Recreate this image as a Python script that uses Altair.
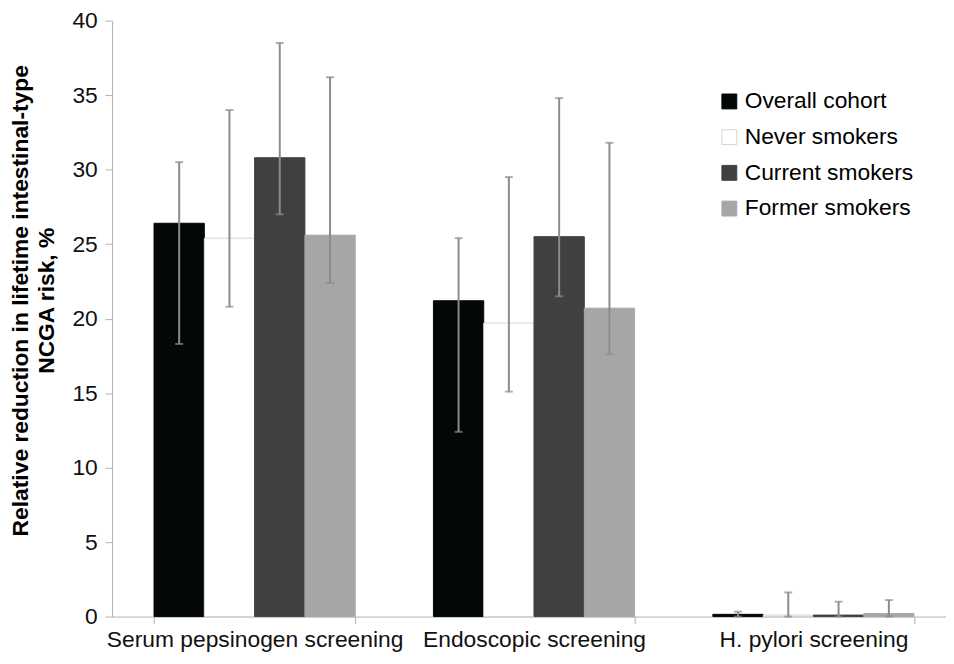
import altair as alt
import pandas as pd

categories = ["Serum pepsinogen screening", "Endoscopic screening", "H. pylori screening"]
groups = ["Overall cohort", "Never smokers", "Current smokers", "Former smokers"]

overall = [26.4, 21.2, 0.15]
never = [25.4, 19.7, 0.1]
current = [30.8, 25.5, 0.1]
former = [25.6, 20.7, 0.2]

overall_lo = [18.3, 12.4, 0.0]
never_lo = [20.8, 15.1, 0.0]
current_lo = [27.0, 21.5, 0.0]
former_lo = [22.4, 17.6, 0.0]

overall_hi = [30.5, 25.4, 0.33]
never_hi = [34.0, 29.5, 1.62]
current_hi = [38.5, 34.8, 1.0]
former_hi = [36.2, 31.8, 1.11]

fills = ["#030708", "#ffffff", "#404040", "#a6a6a6"]
strokes = ["#030708", "#d4d4d4", "#404040", "#a6a6a6"]

series = {
    "Overall cohort": (overall, overall_lo, overall_hi),
    "Never smokers": (never, never_lo, never_hi),
    "Current smokers": (current, current_lo, current_hi),
    "Former smokers": (former, former_lo, former_hi),
}

rows = []
for g in groups:
    v, lo, hi = series[g]
    for i, c in enumerate(categories):
        rows.append({"cat": c, "grp": g, "val": v[i], "lo": lo[i], "hi": hi[i]})
df = pd.DataFrame(rows)

FONT = "Liberation Sans"

x = alt.X(
    "cat:N",
    sort=categories,
    scale=alt.Scale(range=[0, 851], paddingInner=0.28, paddingOuter=0.15),
    axis=alt.Axis(
        title=None,
        labelAngle=0,
        labelFont=FONT,
        labelFontSize=23,
        labelColor="#111111",
        labelPadding=5,
        labelLimit=500,
        tickBand="extent",
        tickSize=7,
        tickColor="#b0b0b0",
        domainColor="#b0b0b0",
        labelOverlap=False,
        labelBound=False,
        labelFlush=False,
    ),
)
xo = alt.XOffset("grp:N", sort=groups)

y_scale = alt.Scale(domain=[0, 40])

bars = alt.Chart(df).mark_bar(strokeWidth=1).encode(
    x=x,
    xOffset=xo,
    y=alt.Y(
        "val:Q",
        scale=y_scale,
        axis=alt.Axis(
            values=[0, 5, 10, 15, 20, 25, 30, 35, 40],
            grid=False,
            title=["Relative reduction in lifetime intestinal-type", "NCGA risk, %"],
            titleFont=FONT,
            titleFontSize=23,
            titleFontWeight="bold",
            titleColor="#000000",
            titleLineHeight=26,
            titleX=-80,
            titleY=282,
            labelFont=FONT,
            labelFontSize=23,
            labelColor="#111111",
            labelPadding=8,
            tickSize=7,
            tickColor="#b0b0b0",
            domainColor="#b0b0b0",
        ),
    ),
    fill=alt.Fill(
        "grp:N",
        sort=groups,
        scale=alt.Scale(domain=groups, range=fills),
        legend=alt.Legend(
            title=None,
            orient="none",
            legendX=611,
            legendY=70,
            symbolType="square",
            symbolSize=225,
            symbolStrokeWidth=1,
            symbolStrokeColor="#dcdcdc",
            labelFont=FONT,
            labelFontSize=23,
            labelColor="#000000",
            labelOffset=4,
            rowPadding=12,
            padding=0,
            labelLimit=400,
        ),
    ),
    stroke=alt.Stroke(
        "grp:N",
        sort=groups,
        scale=alt.Scale(domain=groups, range=strokes),
        legend=None,
    ),
)

rules = alt.Chart(df).mark_rule(color="#8c8c8c", strokeWidth=2).encode(
    x=x,
    xOffset=xo,
    y=alt.Y("lo:Q", scale=y_scale),
    y2="hi:Q",
)

caps_hi = alt.Chart(df).mark_tick(color="#8c8c8c", thickness=2, size=8).encode(
    x=x,
    xOffset=xo,
    y=alt.Y("hi:Q", scale=y_scale),
)
caps_lo = alt.Chart(df).mark_tick(color="#8c8c8c", thickness=2, size=8).encode(
    x=x,
    xOffset=xo,
    y=alt.Y("lo:Q", scale=y_scale),
)

chart = (
    alt.layer(bars, rules, caps_hi, caps_lo)
    .properties(
        width=841,
        height=601,
        autosize=alt.AutoSizeParams(type="none"),
        padding={"left": 105, "top": 10, "right": 0, "bottom": 37},
        background="#ffffff",
    )
    .configure_view(stroke=None)
)

chart.save("out.html", embed_options={"renderer": "svg", "actions": False})
